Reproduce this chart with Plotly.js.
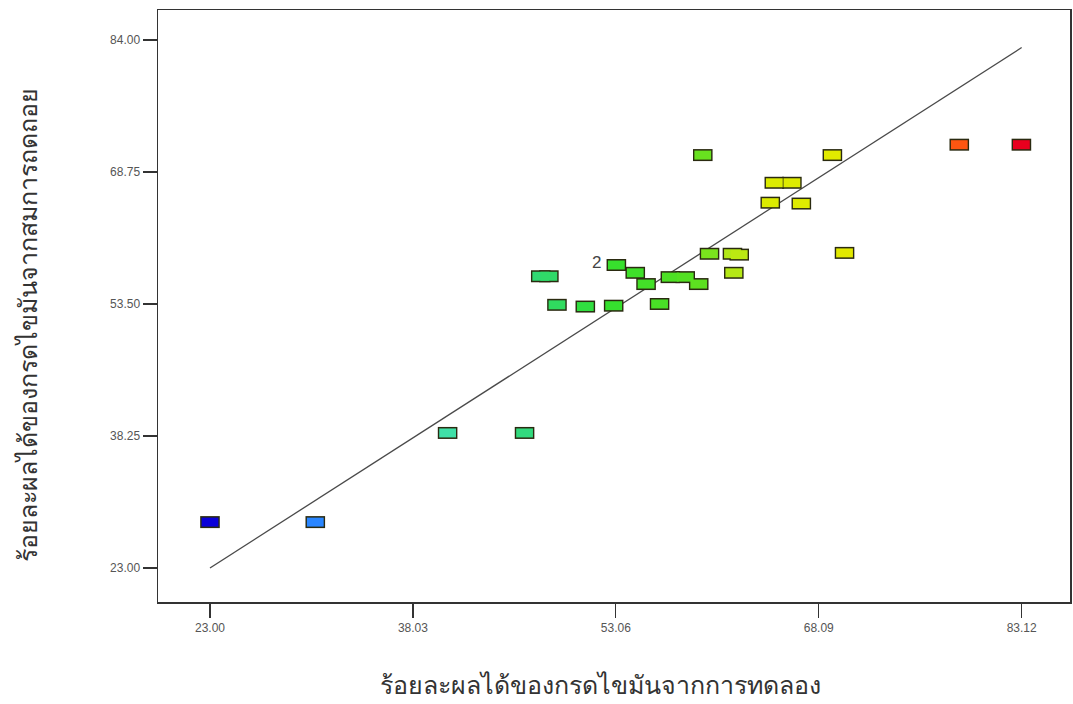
<!DOCTYPE html>
<html>
<head>
<meta charset="utf-8">
<script src="https://cdn.plot.ly/plotly-3.0.1.min.js"></script>
<style>html,body{margin:0;padding:0;background:#fff;}#chart{width:1073px;height:704px;}</style>
</head>
<body>
<div id="chart"></div>
<script>
// Actual (experimental) fatty acid yield, %
var actual = [23.0, 30.8, 40.6, 46.3, 47.5, 48.1, 48.7, 50.8, 52.9, 53.1, 54.5, 55.3, 56.3, 57.1, 58.2, 59.2, 59.5, 60.0, 61.7, 62.2, 61.8, 64.5, 64.8, 66.1, 66.8, 69.1, 70.0, 78.5, 83.1];
// Predicted fatty acid yield from regression equation, %
var predicted = [28.3, 28.3, 38.6, 38.6, 56.7, 56.7, 53.4, 53.2, 53.3, 58.0, 57.1, 55.8, 53.5, 56.6, 56.6, 55.8, 70.7, 59.3, 59.3, 59.2, 57.1, 65.2, 67.5, 67.5, 65.1, 70.7, 59.4, 71.9, 71.9];
// 1:1 reference line
var lineX = [23.0, 83.12];
var lineY = [23.0, 83.12];
// Axis ticks
var xTicks = [23.00, 38.03, 53.06, 68.09, 83.12];
var yTicks = [23.00, 38.25, 53.50, 68.75, 84.00];
var tickLabelsX = ['23.00', '38.03', '53.06', '68.09', '83.12'];
var tickLabelsY = ['23.00', '38.25', '53.50', '68.75', '84.00'];
// Titles
var xTitle = 'ร้อยละผลได้ของกรดไขมันจากการทดลอง';
var yTitle = 'ร้อยละผลได้ของกรดไขมันจากสมการถดถอย';
// Replicate label
var labelX = 53.1, labelY = 58.0, labelText = '2';

var cscale = [
  [0.0, '#0a00d8'], [0.13, '#2a86ff'], [0.29, '#40e0a8'], [0.40, '#30d878'],
  [0.48, '#30e030'], [0.60, '#58e020'], [0.64, '#b0e818'], [0.69, '#dcec00'],
  [0.82, '#e4e800'], [0.92, '#ff5a10'], [1.0, '#e8001e']
];

var traces = [
  {x: lineX, y: lineY, mode: 'lines', line: {color: '#4a4a4a', width: 1.3}, hoverinfo: 'skip', showlegend: false},
  {x: actual, y: predicted, mode: 'markers', showlegend: false, hoverinfo: 'skip',
   marker: {symbol: 'line-ew', size: 14, color: '#2a2a10', line: {width: 12, color: '#2a2a10'}}},
  {x: actual, y: predicted, mode: 'markers', showlegend: false,
   marker: {symbol: 'line-ew', size: 12, color: actual, colorscale: cscale, cmin: 23.0, cmax: 83.12,
            showscale: false,
            line: {width: 9, color: actual, colorscale: cscale, cmin: 23.0, cmax: 83.12}}}
];

var font = 'Liberation Sans, Arial, sans-serif';
var thai = 'Noto Sans, Tahoma, sans-serif';

var layout = {
  width: 1073, height: 704,
  margin: {l: 158, r: 3, t: 10, b: 102},
  paper_bgcolor: '#fff', plot_bgcolor: '#fff',
  xaxis: {
    range: [19.15, 86.7], tickvals: xTicks, ticktext: tickLabelsX,
    showgrid: false, zeroline: false, showline: true, mirror: true,
    linecolor: '#333', linewidth: 1.5, ticks: 'outside', ticklen: 14, tickwidth: 1.3, tickcolor: '#333',
    tickfont: {family: font, size: 12, color: '#555'},
    automargin: false
  },
  yaxis: {
    range: [19.07, 87.46], tickvals: yTicks, ticktext: tickLabelsY,
    showgrid: false, zeroline: false, showline: true, mirror: true,
    linecolor: '#333', linewidth: 1.5, ticks: 'outside', ticklen: 14, tickwidth: 1.3, tickcolor: '#333',
    tickfont: {family: font, size: 12, color: '#555'},
    automargin: false
  },
  annotations: [
    {x: labelX, y: labelY, text: labelText, showarrow: false, xshift: -20, yshift: 3,
     font: {family: font, size: 17, color: '#444'}},
    {xref: 'paper', yref: 'paper', x: 0.4857, y: -0.1385, xanchor: 'center', yanchor: 'middle',
     text: xTitle, showarrow: false, font: {family: thai, size: 25, color: '#333'}},
    {xref: 'paper', yref: 'paper', x: -0.1436, y: 0.468, xanchor: 'center', yanchor: 'middle',
     text: yTitle, textangle: -90, showarrow: false, font: {family: thai, size: 25, color: '#333'}}
  ]
};

Plotly.newPlot('chart', traces, layout, {displayModeBar: false, staticPlot: true});
</script>
</body>
</html>
